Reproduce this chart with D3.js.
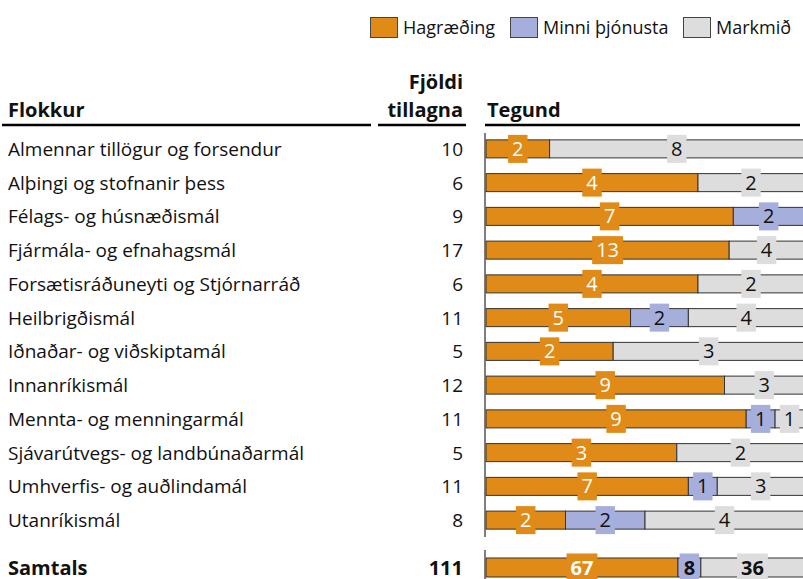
<!DOCTYPE html>
<html lang="is">
<head>
<meta charset="UTF-8"/>
<title>Tillögur eftir flokki og tegund</title>
<script src="https://d3js.org/d3.v7.min.js"></script>
<style>
    body { margin: 0; background: #fff; }
    text { font-family: "Open Sans", sans-serif; }
</style>
</head>
<body>
<script>
    // Data
    var categories = ["Almennar tillögur og forsendur", "Alþingi og stofnanir þess", "Félags- og húsnæðismál",
        "Fjármála- og efnahagsmál", "Forsætisráðuneyti og Stjórnarráð", "Heilbrigðismál",
        "Iðnaðar- og viðskiptamál", "Innanríkismál", "Mennta- og menningarmál",
        "Sjávarútvegs- og landbúnaðarmál", "Umhverfis- og auðlindamál", "Utanríkismál"];
    var counts = [10, 6, 9, 17, 6, 11, 5, 12, 11, 5, 11, 8];
    var hagraeding = [2, 4, 7, 13, 4, 5, 2, 9, 9, 3, 7, 2];
    var minni = [0, 0, 2, 0, 0, 2, 0, 0, 1, 0, 1, 2];
    var markmid = [8, 2, 0, 4, 2, 4, 3, 3, 1, 2, 3, 4];
    var seriesNames = ["Hagræðing", "Minni þjónusta", "Markmið"];
    var totalLabel = "Samtals";
    var totals = [d3.sum(hagraeding), d3.sum(minni), d3.sum(markmid)];

    var colors = ["#e08a17", "#a6aedc", "#dddddd"];
    var textColors = ["#fff", "#111", "#111"];

    var W = 803, H = 579;
    var svg = d3.select("body").append("svg")
        .attr("width", W).attr("height", H);

    // Scales
    var x = d3.scaleLinear().domain([0, 1]).range([486, 804]);
    var y = d3.scaleBand()
        .domain(categories)
        .range([132, 537])
        .paddingInner(0.466)
        .paddingOuter(0.233);

    var rows = categories.map(function(c, i) {
        return { name: c, count: counts[i], vals: [hagraeding[i], minni[i], markmid[i]] };
    });
    var totalRow = { name: totalLabel, count: d3.sum(counts), vals: totals };

    // Legend
    var legendX = [370, 510, 683];
    var legend = svg.append("g");
    seriesNames.forEach(function(s, i) {
        legend.append("rect")
            .attr("x", legendX[i] + 0.5).attr("y", 17.5)
            .attr("width", 27).attr("height", 20)
            .attr("fill", colors[i]).attr("stroke", "#444").attr("stroke-width", 1);
        legend.append("text")
            .attr("x", legendX[i] + 33).attr("y", 34)
            .attr("font-size", 18).attr("fill", "#111")
            .text(s);
    });

    // Headers
    var hdr = svg.append("g").attr("font-weight", "bold").attr("font-size", 20).attr("fill", "#111");
    hdr.append("text").attr("x", 8).attr("y", 117).text("Flokkur");
    hdr.append("text").attr("x", 463).attr("y", 89).attr("text-anchor", "end").text("Fjöldi");
    hdr.append("text").attr("x", 463).attr("y", 117).attr("text-anchor", "end").text("tillagna");
    hdr.append("text").attr("x", 487).attr("y", 117).text("Tegund");
    [[2, 371], [378, 466], [485, 800]].forEach(function(r) {
        svg.append("line")
            .attr("x1", r[0]).attr("x2", r[1]).attr("y1", 125).attr("y2", 125)
            .attr("stroke", "#000").attr("stroke-width", 2.5);
    });

    function drawRow(row, cy, bh, bold) {
        var g = svg.append("g");
        var fs = bold ? 20 : 19;
        g.append("text")
            .attr("x", 8).attr("y", cy + 7)
            .attr("font-size", fs).attr("fill", "#111")
            .attr("font-weight", bold ? "bold" : null)
            .text(row.name);
        g.append("text")
            .attr("x", 463).attr("y", cy + 7)
            .attr("text-anchor", "end")
            .attr("font-size", fs).attr("fill", "#111")
            .attr("font-weight", bold ? "bold" : null)
            .text(row.count);

        var acc = 0;
        var segs = row.vals.map(function(v, k) {
            var s = { k: k, v: v, x0: acc / row.count, x1: (acc + v) / row.count };
            acc += v;
            return s;
        }).filter(function(s) { return s.v > 0; });

        g.selectAll("rect.seg")
            .data(segs)
            .enter()
            .append("rect")
            .attr("class", "seg")
            .attr("x", function(d) { return x(d.x0); })
            .attr("y", cy - bh / 2)
            .attr("width", function(d) { return x(d.x1) - x(d.x0); })
            .attr("height", bh)
            .attr("fill", function(d) { return colors[d.k]; })
            .attr("stroke", "#333")
            .attr("stroke-width", 1);

        var lab = g.selectAll("g.lab")
            .data(segs)
            .enter()
            .append("g")
            .attr("class", "lab")
            .attr("transform", function(d) {
                return "translate(" + ((x(d.x0) + x(d.x1)) / 2) + "," + cy + ")";
            });
        lab.append("text")
            .attr("text-anchor", "middle")
            .attr("y", 7)
            .attr("font-size", 20)
            .attr("font-weight", bold ? "bold" : null)
            .attr("fill", function(d) { return textColors[d.k]; })
            .text(function(d) { return d.v; })
            .each(function(d) {
                var w = this.getComputedTextLength();
                d3.select(this.parentNode).insert("rect", "text")
                    .attr("x", -w / 2 - 4).attr("y", -14)
                    .attr("width", w + 8).attr("height", 28)
                    .attr("fill", colors[d.k]);
            });
    }

    rows.forEach(function(r) {
        drawRow(r, y(r.name) + y.bandwidth() / 2, y.bandwidth(), false);
    });
    drawRow(totalRow, 567.5, 19, true);

    // Axis lines
    svg.append("line").attr("x1", 485).attr("x2", 485).attr("y1", 133).attr("y2", 537)
        .attr("stroke", "#555").attr("stroke-width", 1.5);
    svg.append("line").attr("x1", 485).attr("x2", 485).attr("y1", 550).attr("y2", 579)
        .attr("stroke", "#555").attr("stroke-width", 1.5);
</script>
</body>
</html>
